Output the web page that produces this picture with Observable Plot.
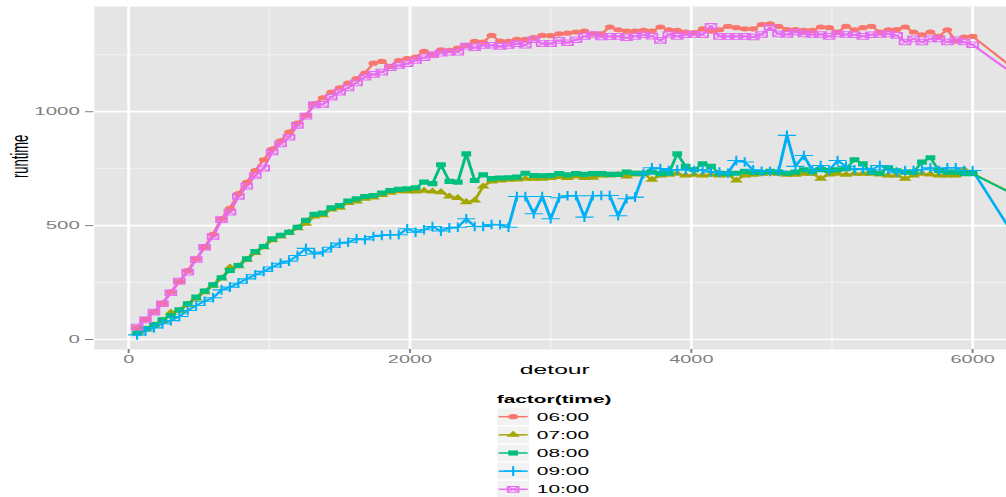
<!DOCTYPE html>
<html><head><meta charset="utf-8">
<script src="https://cdn.jsdelivr.net/npm/d3@7"></script>
<script src="https://cdn.jsdelivr.net/npm/@observablehq/plot@0.6"></script>
<style>
body{margin:0;background:#fff;font-family:"Liberation Sans",Arial,sans-serif;}
svg{display:block}
</style></head><body><div id="chart"></div><script>
// detour values: 60..6000 step 60, plus one point beyond the visible range
const detour = d3.range(1, 101).map(i => i * 60).concat([6600]);
const series = ["06:00", "07:00", "08:00", "09:00", "10:00"];
const colors = ["#F8766D", "#A3A500", "#00BF7D", "#00B0F6", "#E76BF3"];

const rt0600 = [51,88,121,159,208,254,302,354,405,462, 530,576,640,690,742,789,836,872,910,950,
 984,1035,1061,1086,1105,1126,1145,1170,1213,1221, 1199,1225,1233,1240,1265,1252,1272,1269,1279,1291,
 1309,1306,1335,1310,1309,1318,1318,1325,1335,1334, 1342,1345,1350,1354,1342,1342,1372,1360,1354,1354,
 1357,1354,1372,1360,1357,1350,1347,1364,1354,1360, 1375,1369,1364,1364,1383,1386,1375,1361,1361,1357,
 1357,1372,1369,1350,1375,1360,1369,1375,1350,1360, 1361,1372,1350,1338,1350,1331,1360,1310,1328,1331, 1040];
const rt0700 = [32,44,62,82,118,126,152,180,208,236, 268,316,322,350,380,405,436,452,468,488,
 508,540,545,571,578,599,606,618,623,635, 644,651,651,650,653,650,647,628,621,603,
 610,672,694,698,701,703,706,706,706,709, 713,709,716,709,710,720,720,723,716,725,
 728,701,720,723,728,720,723,720,723,720, 723,698,720,723,728,730,728,723,723,728,
 728,706,725,728,723,728,728,728,725,720, 720,706,720,728,725,720,720,720,745,728, 546];
const rt0800 = [28,48,66,86,105,130,157,186,212,240, 271,303,325,354,386,408,442,457,471,493,
 523,549,555,578,588,608,618,628,632,643, 654,659,662,666,691,684,767,694,691,815,
 698,723,706,709,710,713,730,720,719,720, 728,723,728,725,728,728,725,725,735,730,
 730,735,728,730,815,760,745,771,760,730, 728,730,738,733,733,738,735,730,735,745,
 738,745,742,745,750,789,771,735,730,754, 740,735,735,779,798,742,735,735,728,728, 540];
const rt0900 = [20,37,51,69,83,101,127,149,168,183, 218,230,247,266,284,299,318,335,344,369,
 400,376,384,405,423,427,442,438,452,457, 460,460,486,471,482,496,476,490,493,530,
 496,496,505,504,493,628,628,552,628,530, 622,631,631,537,631,632,632,543,618,625,
 728,754,750,742,745,745,742,745,735,735, 730,786,779,745,738,738,738,896,760,808,
 742,764,742,786,760,745,750,745,764,745, 735,742,742,745,754,742,754,754,742,742, 159];
const rt1000 = [54,86,120,157,205,256,296,351,405,452, 526,559,628,673,720,752,823,859,888,940,
 981,1030,1032,1064,1086,1105,1127,1152,1164,1174, 1193,1203,1211,1225,1237,1250,1257,1262,1262,1288,
 1281,1291,1292,1287,1291,1299,1292,1316,1299,1299, 1313,1303,1316,1331,1339,1328,1331,1331,1325,1331,
 1338,1332,1313,1339,1331,1338,1339,1338,1375,1331, 1331,1331,1331,1328,1339,1369,1342,1339,1350,1342,
 1339,1339,1331,1342,1339,1338,1331,1338,1339,1342, 1335,1306,1320,1306,1320,1320,1306,1316,1306,1294, 1030];

const xMajor = [0, 2000, 4000, 6000];
const xMinor = [1000, 3000, 5000];
const yMajor = [0, 500, 1000];
const yMinor = [250, 750, 1250];

const runtimes = [rt0600, rt0700, rt0800, rt0900, rt1000];
const rows = series.flatMap((s, k) => runtimes[k].map((v, i) => ({detour: detour[i], runtime: v, time: s})));
const of = t => rows.filter(d => d.time === t);

const W = 530, H = 382, SCREEN_W = 1006;
const FONT = '"Liberation Sans", Arial, sans-serif';
const pt = {x: "detour", y: "runtime", clip: true};

const chart = Plot.plot({
  width: W, height: H,
  marginLeft: 49.2, marginRight: 0, marginTop: 6, marginBottom: 33,
  x: {domain: [-244, 6244]},
  y: {domain: [-44, 1462]},
  color: {domain: series, range: colors},
  style: {fontFamily: FONT, background: "white", overflow: "visible"},
  marks: [
    Plot.frame({fill: "#E5E5E5", stroke: "none"}),
    Plot.ruleX(xMinor, {stroke: "#F2F2F2", strokeWidth: 0.8}),
    Plot.ruleY(yMinor, {stroke: "#F2F2F2", strokeWidth: 0.9}),
    Plot.ruleX(xMajor, {stroke: "#ffffff", strokeWidth: 1.5}),
    Plot.ruleY(yMajor, {stroke: "#ffffff", strokeWidth: 1.7}),
    Plot.line(rows, {x: "detour", y: "runtime", z: "time", stroke: "time", strokeWidth: 1.6, clip: true}),
    Plot.dot(of("06:00"), {...pt, symbol: "circle", r: 2.6, fill: "time"}),
    Plot.dot(of("07:00"), {...pt, symbol: "triangle", r: 2.6, fill: "time"}),
    Plot.dot(of("08:00"), {...pt, symbol: "square", r: 2.9, fill: "time"}),
    Plot.dot(of("09:00"), {...pt, symbol: "plus", r: 3.2, stroke: "time", fill: "none", strokeWidth: 1.1}),
    Plot.dot(of("10:00"), {...pt, symbol: "square", r: 3.2, stroke: "time", fill: "none", strokeWidth: 1}),
    Plot.dot(of("10:00"), {...pt, symbol: "times", r: 2.6, stroke: "time", fill: "none", strokeWidth: 0.8}),
    Plot.axisX({ticks: xMajor, tickFormat: d => String(d), tickSize: 4, tickPadding: 2.5, fontSize: 10.5, color: "#7f7f7f", label: null}),
    Plot.axisY({ticks: yMajor, tickFormat: d => String(d), tickSize: 4.4, tickPadding: 3.2, fontSize: 10.8, color: "#7f7f7f", label: null}),
    Plot.text(["detour"], {text: d => d, frameAnchor: "bottom", dy: 24, dx: 2.2, fontSize: 13, fill: "black"}),
    Plot.text(["runtime"], {text: d => d, frameAnchor: "left", dx: -39.3, rotate: -90, fontSize: 13, fill: "black"})
  ]
});
chart.setAttribute("width", SCREEN_W);
chart.setAttribute("height", H);
chart.setAttribute("preserveAspectRatio", "none");
chart.style.width = SCREEN_W + "px";
chart.style.height = H + "px";
chart.style.maxWidth = "none";
document.getElementById("chart").appendChild(chart);

// Legend (below the plot), same horizontal stretch
const LH = 115;
const leg = d3.create("svg")
  .attr("width", SCREEN_W).attr("height", LH)
  .attr("viewBox", `0 0 ${W} ${LH}`)
  .attr("preserveAspectRatio", "none")
  .style("display", "block")
  .style("font-family", FONT);
leg.append("text").attr("x", 261.7).attr("y", 21.2)
  .attr("font-weight", "bold").attr("font-size", 11).attr("fill", "black").text("factor(time)");
const sym = {
  "06:00": [{type: d3.symbolCircle, r: 2.6, fill: true}],
  "07:00": [{type: d3.symbolTriangle, r: 2.6, fill: true}],
  "08:00": [{type: d3.symbolSquare, r: 2.9, fill: true}],
  "09:00": [{type: d3.symbolPlus, r: 3.2, fill: false, sw: 1.1}],
  "10:00": [{type: d3.symbolSquare, r: 3.2, fill: false, sw: 1}, {type: d3.symbolTimes, r: 2.6, fill: false, sw: 0.8}]
};
series.forEach((s, k) => {
  const cy = 34.7 + k * 18.15, x0 = 261.7, kw = 17.3, kh = 17.3;
  const g = leg.append("g");
  g.append("rect").attr("x", x0).attr("y", cy - kh / 2).attr("width", kw).attr("height", kh)
    .attr("fill", "#F2F2F2").attr("stroke", "white").attr("stroke-width", 0.6);
  g.append("line").attr("x1", x0 + 1).attr("x2", x0 + kw - 1).attr("y1", cy).attr("y2", cy)
    .attr("stroke", colors[k]).attr("stroke-width", 1.5);
  sym[s].forEach(o => {
    g.append("path").attr("transform", `translate(${x0 + kw / 2},${cy})`)
      .attr("d", d3.symbol(o.type, Math.PI * o.r * o.r)())
      .attr("fill", o.fill ? colors[k] : "none")
      .attr("stroke", o.fill ? "none" : colors[k])
      .attr("stroke-width", o.sw || 1);
  });
  g.append("text").attr("x", 282.8).attr("y", cy).attr("dy", "0.36em")
    .attr("font-size", 11).attr("fill", "black").text(s);
});
document.getElementById("chart").appendChild(leg.node());
</script></body></html>
